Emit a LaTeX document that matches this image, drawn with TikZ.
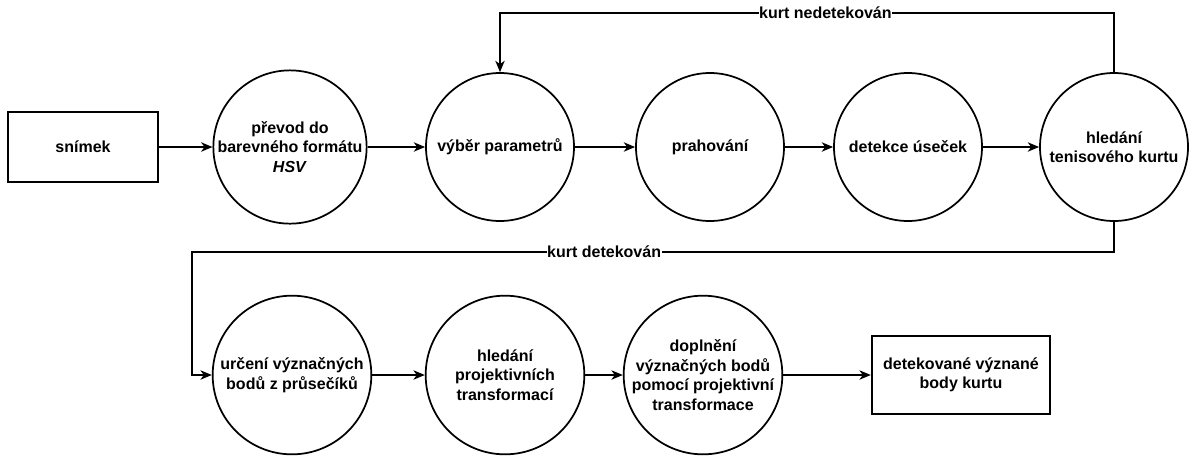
\documentclass[tikz,border=0pt]{standalone}
\usepackage{fontspec}
\setmainfont{Liberation Sans}
\usetikzlibrary{arrows.meta}

\begin{document}
\begin{tikzpicture}[x=0.75pt,y=-0.75pt,
  every node/.style={font=\bfseries\fontsize{12}{14.6}\selectfont,align=center},
  krok/.style={circle,draw,line width=1.3pt,inner sep=0mm,minimum size=#1},
  ramec/.style={rectangle,draw,line width=1.3pt,minimum width=#1,minimum height=53pt},
  sipka/.style={-{Stealth[length=8.5pt,width=7pt,inset=2.5pt]},line width=1.3pt},
  popis/.style={fill=white,inner sep=0.5pt}]
\useasboundingbox (0,0) rectangle (1193,455);
%\draw[help lines] (0,0) grid[step=50] (1193,455);
\node[ramec=112pt] (snimek) at (83,147) {snímek};
\foreach \x/\y/\n/\t in {290/147/c1/převod do\\barevného formátu\\\textit{HSV}, 500/147/c2/výběr parametrů, 710/147/c3/prahování, 908/147/c4/detekce úseček, 1114/147/c5/hledání\\tenisového kurtu}
  \node[krok=111pt] (\n) at (\x,\y) {\t};
\foreach \x/\y/\n/\t in {292/375/c6/určení význačných\\bodů z průsečíků, 505/375/c7/hledání\\projektivních\\transformací, 703/375/c8/doplnění\\význačných bodů\\pomocí projektivní\\transformace}
  \node[krok=119pt] (\n) at (\x,\y) {\t};
\node[ramec=134pt,minimum height=59pt] (cil) at (961,375) {detekované význané\\body kurtu};

\foreach \s/\t in {snimek/c1, c1/c2, c2/c3, c3/c4, c4/c5, c6/c7, c7/c8, c8/cil}
  \draw[sipka] (\s) -- (\t);

\coordinate (horni) at (0,13);
\coordinate (ohyb) at (192,252);
\draw[sipka] (c5.north) -- (c5.north |- horni) -- node[popis,pos=0.47] {kurt nedetekován} (c2.north |- horni) -- (c2.north);
\draw[sipka] (c5.south) -- (c5.south |- ohyb) -- node[popis,pos=0.553] {kurt detekován} (ohyb) -- (ohyb |- c6.west) -- (c6.west);
\end{tikzpicture}
\end{document}
